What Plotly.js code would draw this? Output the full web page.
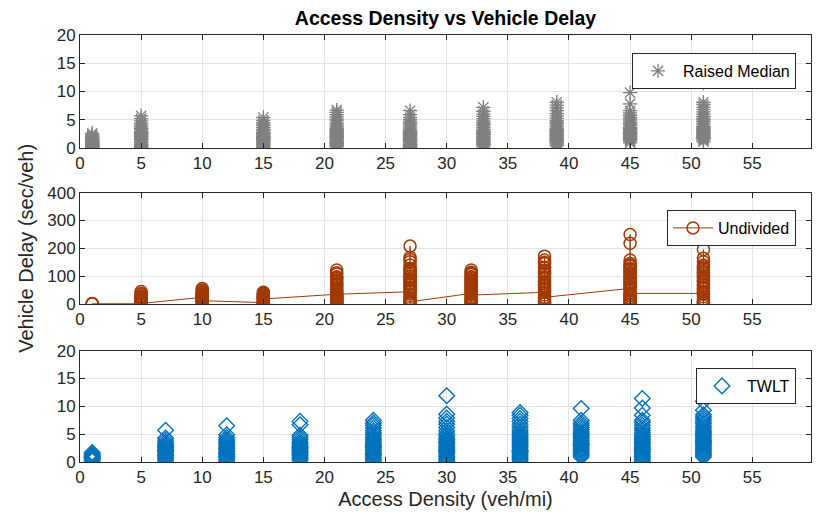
<!DOCTYPE html>
<html><head><meta charset="utf-8">
<script src="https://cdn.plot.ly/plotly-3.0.1.min.js"></script>
<style>html,body{margin:0;padding:0;background:#fff}</style>
</head><body><div id="chart" style="width:816px;height:524px"></div>
<script>
// ---- Raised Median (top panel) ----
const rmX = [1, 5, 15, 21, 27, 33, 39, 45, 51];
const rmY = [
  [0.1,0.3,0.2,0.5,0.4,0.7,0.6,0.9,0.8,1.1,1.0,1.3,1.2,1.5,1.4,1.7,1.6,1.9,2.1,2.3,2.6,0.2,0.9],
  [0.1,0.4,0.3,0.7,0.9,1.2,1.0,1.5,1.4,1.8,1.7,2.1,2.0,2.4,2.3,2.7,2.6,3.0,2.9,3.3,3.5,3.8,4.1,4.4,4.8,5.2,5.7,0.6],
  [0.1,0.3,0.6,0.5,0.9,0.8,1.2,1.1,1.5,1.4,1.8,1.7,2.1,2.0,2.4,2.3,2.7,2.6,3.0,3.3,3.2,3.6,3.9,4.2,4.5,4.9,5.4,1.9],
  [0.2,0.5,0.4,0.8,0.7,1.1,1.0,1.4,1.3,1.7,1.6,2.0,1.9,2.3,2.2,2.6,2.5,2.9,2.8,3.2,3.1,3.5,3.8,4.1,4.4,4.8,5.1,5.5,5.9,6.3,6.7],
  [0.1,0.4,0.3,0.7,0.6,1.0,0.9,1.3,1.2,1.6,1.5,1.9,1.8,2.2,2.1,2.5,2.4,2.8,2.7,3.1,3.0,3.4,3.7,4.0,4.3,4.6,5.0,5.4,5.9,6.6],
  [0.2,0.6,0.9,0.8,1.2,1.1,1.5,1.4,1.8,1.7,2.1,2.0,2.4,2.3,2.7,2.6,3.0,2.9,3.3,3.2,3.6,3.9,4.2,4.5,4.8,5.2,5.6,6.0,6.5,7.2,0.5],
  [0.4,0.7,1.0,0.9,1.3,1.2,1.6,1.5,1.9,1.8,2.2,2.1,2.5,2.4,2.8,2.7,3.1,3.0,3.4,3.3,3.7,4.0,4.3,4.6,4.9,5.3,5.7,6.1,6.6,7.1,7.6,8.1],
  [0.9,1.2,1.5,1.4,1.8,1.7,2.1,2.0,2.4,2.3,2.7,2.6,3.0,2.9,3.3,3.2,3.6,3.5,3.9,4.2,4.5,4.8,5.1,5.4,5.8,6.2,6.6,7.8,9.8],
  [1.1,1.4,1.7,1.6,2.0,1.9,2.3,2.2,2.6,2.5,2.9,2.8,3.2,3.1,3.5,3.4,3.8,3.7,4.1,4.4,4.7,5.0,5.3,5.6,6.0,6.4,6.8,7.2,7.7,8.1,11.5]
];

// ---- Undivided (middle panel), points in recorded order ----
const undX = [1, 5, 10, 15, 21, 27, 32, 38, 45, 51];
const undY = [
  [0.5,1.5,0.8],
  [1,4,8,12,16,20,25,30,38,45,36,27,22,18,14,10,6,3,2],
  [24,28,32,36,40,45,56,50,42,34,30,26,22,19,16,13,10,8,4,1,12],
  [5,2,0.5,4,8,11,14,17,20,23,26,30,34,38,42,36,28,22,18],
  [35,30,25,20,15,10,6,2,0.5,4,8,12,17,22,27,32,38,44,50,56,62,68,74,80,86,92,98,108,122,112,94,70,50,35],
  [44,52,60,68,76,84,92,100,108,116,124,128,152,168,208,160,140,120,100,86,72,58,46,36,28,20,14,8,3,0.5,8],
  [38,44,50,56,62,68,74,80,86,92,98,106,114,122,110,96,84,72,60,48,36,26,18,10,4,0.5,6,14,22,32],
  [42,50,58,66,74,82,90,98,106,114,122,132,146,158,172,150,130,110,94,80,66,54,42,32,22,14,7,2,10,24],
  [56,64,72,80,88,96,104,112,120,128,136,146,158,218,250,140,124,110,92,76,62,50,40,30,22,14,7,1,10,20,30,38],
  [38,46,54,62,70,78,86,94,102,110,118,126,134,140,152,164,196,130,112,96,82,68,56,44,34,26,18,10,4,0.5,8]
];

// ---- TWLT (bottom panel) ----
const twX = [1, 7, 12, 18, 24, 30, 36, 41, 46, 51];
const twY = [
  [0.2,0.5,0.8,1.1,1.4,1.7,1.0,0.6,1.3,0.9],
  [0.2,0.5,0.8,1.1,1.4,1.7,2.0,2.3,2.6,2.9,3.2,3.5,3.9,4.3,1.2,1.9,2.7,5.7],
  [0.1,0.4,0.7,1.0,1.3,1.6,1.9,2.2,2.5,2.8,3.1,3.4,3.7,4.0,4.4,4.9,1.4,2.4,6.5],
  [0.3,0.6,0.9,1.2,1.5,1.8,2.1,2.4,2.7,3.0,3.3,3.6,4.0,4.4,4.8,1.7,2.6,6.7,7.3],
  [0.2,0.5,0.8,1.1,1.4,1.7,2.0,2.3,2.6,2.9,3.2,3.5,3.8,4.1,4.4,4.8,5.2,5.6,6.1,6.6,7.0,7.5,1.5,2.8],
  [0.1,0.4,0.7,1.0,1.3,1.6,1.9,2.2,2.5,2.8,3.1,3.4,3.7,4.0,4.3,4.7,5.1,5.6,6.2,6.8,7.3,7.9,8.6,11.9,2.0],
  [0.2,0.5,0.8,1.1,1.4,1.7,2.0,2.3,2.6,2.9,3.2,3.5,3.8,4.1,4.4,4.7,5.0,5.4,5.8,6.3,6.8,7.3,7.8,8.4,8.9,1.9],
  [0.9,1.2,1.5,1.8,2.1,2.4,2.7,3.0,3.3,3.6,3.9,4.2,4.5,4.8,5.1,5.4,5.8,6.2,6.6,7.0,7.5,9.6,3.2],
  [0.1,0.4,0.7,1.0,1.3,1.6,1.9,2.2,2.5,2.8,3.1,3.4,3.7,4.0,4.3,4.6,4.9,5.3,5.7,6.1,6.6,7.1,7.5,8.4,9.7,11.4,2.3],
  [0.9,1.2,1.5,1.8,2.1,2.4,2.7,3.0,3.3,3.6,3.9,4.2,4.5,4.8,5.1,5.4,5.7,6.1,6.5,6.9,7.3,7.7,8.1,8.5,9.3,10.9,3.5]
];

const seriesNames = ['Raised Median', 'Undivided', 'TWLT'];
const xTicks = [0, 5, 10, 15, 20, 25, 30, 35, 40, 45, 50, 55];

function flat(xs, ys) {
  const x = [], y = [];
  xs.forEach((xv, i) => ys[i].forEach(yv => { x.push(xv); y.push(yv); }));
  return {x, y};
}
const rm = flat(rmX, rmY), und = flat(undX, undY), tw = flat(twX, twY);

const FONT = 'Arial, "Liberation Sans", Helvetica, sans-serif';
const GREY = '#808080', BROWN = '#A23A06', BLUE = '#0072BD';

const traces = [
  {x: rm.x, y: rm.y, type: 'scatter', mode: 'markers', name: seriesNames[0],
   xaxis: 'x', yaxis: 'y', legend: 'legend',
   marker: {symbol: 'asterisk-open', size: 12, color: GREY, line: {color: GREY, width: 1.3}}},
  {x: und.x, y: und.y, type: 'scatter', mode: 'lines+markers', name: seriesNames[1],
   xaxis: 'x2', yaxis: 'y2', legend: 'legend2',
   line: {color: BROWN, width: 1},
   marker: {symbol: 'circle-open', size: 12, color: BROWN, line: {color: BROWN, width: 1.5}}},
  {x: tw.x, y: tw.y, type: 'scatter', mode: 'markers', name: seriesNames[2],
   xaxis: 'x3', yaxis: 'y3', legend: 'legend3',
   marker: {symbol: 'diamond-open', size: 12, color: BLUE, line: {color: BLUE, width: 1.4}}}
];

const axisBase = {
  showline: true, linecolor: '#262626', linewidth: 1, mirror: 'ticks',
  ticks: 'inside', ticklen: 5, tickcolor: '#262626', tickwidth: 1,
  showgrid: true, gridcolor: '#e3e3e3', gridwidth: 1, zeroline: false,
  tickfont: {family: FONT, size: 17, color: '#262626'}, fixedrange: true
};
const xBase = Object.assign({}, axisBase, {range: [0, 59.8], tickmode: 'array', tickvals: xTicks, domain: [0, 1]});

const H = 427, B = 462;
const dom = (top, bot) => [(B - bot) / H, (B - top) / H];
const legBase = {
  xref: 'paper', yref: 'paper', xanchor: 'right', yanchor: 'top',
  bordercolor: '#262626', borderwidth: 1, bgcolor: '#ffffff',
  font: {family: FONT, size: 16, color: '#000'}, itemwidth: 40
};

const layout = {
  width: 816, height: 524,
  margin: {l: 80, r: 5, t: 35, b: 62},
  paper_bgcolor: '#fff', plot_bgcolor: '#fff',
  showlegend: true,
  title: {text: '<b>Access Density vs Vehicle Delay</b>', font: {family: FONT, size: 19.5, color: '#000'},
          x: 0.5, xref: 'paper', xanchor: 'center', y: 1 - 18 / 524, yref: 'container', yanchor: 'middle'},
  xaxis: Object.assign({}, xBase, {anchor: 'y'}),
  xaxis2: Object.assign({}, xBase, {anchor: 'y2'}),
  xaxis3: Object.assign({}, xBase, {anchor: 'y3',
    title: {text: 'Access Density (veh/mi)', font: {family: FONT, size: 20, color: '#262626'}, standoff: 5}}),
  yaxis: Object.assign({}, axisBase, {anchor: 'x', domain: dom(35, 148), range: [0, 20], tickmode: 'array', tickvals: [0,5,10,15,20]}),
  yaxis2: Object.assign({}, axisBase, {anchor: 'x2', domain: dom(192.7, 304), range: [0, 400], tickmode: 'array', tickvals: [0,100,200,300,400],
    title: {text: 'Vehicle Delay (sec/veh)', font: {family: FONT, size: 20, color: '#262626'}, standoff: 8}}),
  yaxis3: Object.assign({}, axisBase, {anchor: 'x3', domain: dom(350.7, 462), range: [0, 20], tickmode: 'array', tickvals: [0,5,10,15,20]}),
  legend: Object.assign({}, legBase, {x: 716 / 731, y: (B - 53) / H}),
  legend2: Object.assign({}, legBase, {x: 716 / 731, y: (B - 210) / H}),
  legend3: Object.assign({}, legBase, {x: 716 / 731, y: (B - 368) / H})
};

Plotly.newPlot('chart', traces, layout, {displayModeBar: false, staticPlot: true});
</script>
</body></html>
